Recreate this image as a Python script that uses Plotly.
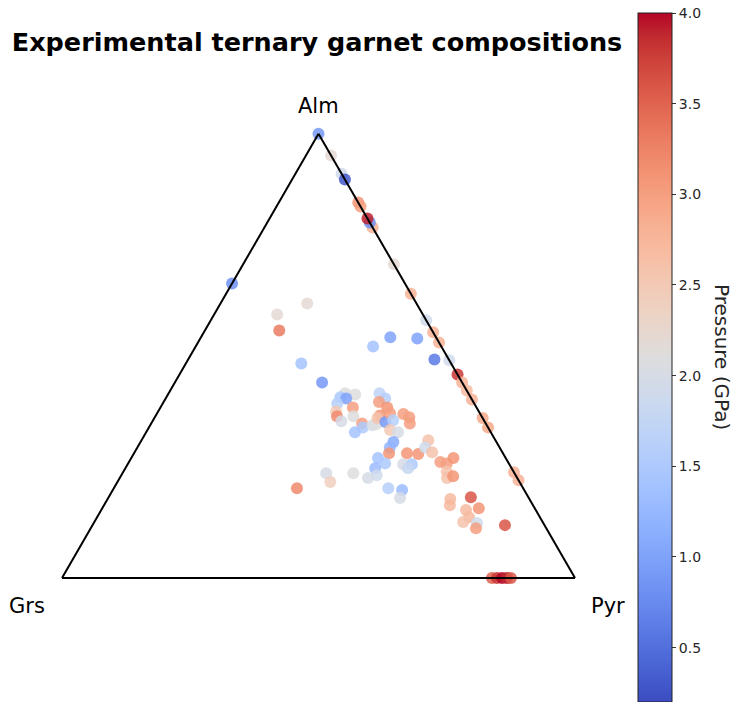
import plotly.graph_objects as go

# Garnet end-member fractions (mol %) and run pressure (GPa)
alm = [100, 95.1, 91.0, 89.7, 84.5, 83.6, 78.9, 80.0, 80.9, 70.6, 64.0, 58.0, 55.3, 53.0,
       49.0, 45.8, 44.0, 42.2, 40.2, 36.0, 33.9, 23.8, 22.0,
       66.3,
       0, 0, 0, 0, 0,
       61.8, 59.3, 55.7, 54.2, 53.9, 49.2, 52.1, 48.3, 44.0, 41.6, 41.3, 40.7, 40.4, 39.3,
       37.5, 36.4, 35.3, 38.4, 36.4, 34.8, 33.9, 32.8, 34.4, 34.6, 41.6, 40.4, 39.6, 38.4,
       36.6, 36.0, 35.1, 37.1, 35.5, 33.3, 32.8, 36.9, 36.2, 34.8, 30.6, 29.4, 28.1, 27.0,
       25.8, 24.7, 23.1, 22.5, 23.6, 23.6, 21.6, 20.2, 20.2, 19.8, 18.0, 28.1, 27.9, 25.6,
       25.6, 24.7, 31.0, 29.4, 28.3, 26.1, 25.8, 27.0, 24.0, 22.5, 22.9, 18.2, 17.8, 16.4,
       15.7, 15.3, 13.7, 12.6, 12.4, 11.2, 11.9]

grs = [0, 0, 0, 0, 0, 0, 0, 0, 0, 0, 0, 0, 0, 0,
       0, 0, 0, 0, 0, 0, 0, 0, 0,
       33.7,
       16.2, 15.2, 14.2, 13.3, 12.5,
       21.3, 28.4, 29.8, 8.9, 3.8, 2.8, 13.3, 29.2, 27.3, 24.0, 22.2, 25.4, 24.4, 26.7,
       27.8, 28.2, 27.9, 24.1, 25.0, 24.1, 24.4, 26.5, 22.3, 21.5, 17.3, 16.8, 18.4, 17.4,
       19.7, 20.5, 19.4, 17.5, 17.7, 19.4, 18.1, 15.0, 14.2, 14.8, 20.1, 21.4, 22.2, 24.9,
       24.1, 26.6, 27.1, 29.1, 31.4, 36.7, 36.9, 44.1, 26.3, 23.8, 25.1, 18.7, 16.6, 20.7,
       19.0, 20.2, 13.1, 14.5, 13.7, 13.2, 12.1, 10.2, 13.0, 13.7, 12.3, 11.2, 15.4, 16.2,
       10.9, 13.6, 13.8, 15.5, 12.9, 13.7, 7.7]

pyr = [0, 4.9, 9.0, 10.3, 15.5, 16.4, 21.1, 20.0, 19.1, 29.4, 36.0, 42.0, 44.7, 47.0,
       51.0, 54.2, 56.0, 57.8, 59.8, 64.0, 66.1, 76.2, 78.0,
       0,
       83.8, 84.8, 85.8, 86.7, 87.5,
       16.9, 12.3, 14.5, 36.9, 42.3, 48.0, 34.6, 22.5, 28.7, 34.4, 36.5, 33.9, 35.2, 34.0,
       34.7, 35.4, 36.8, 37.5, 38.6, 41.1, 41.7, 40.7, 43.3, 43.9, 41.1, 42.8, 42.0, 44.2,
       43.7, 43.5, 45.5, 45.4, 46.8, 47.3, 49.1, 48.1, 49.6, 50.4, 49.3, 49.2, 49.7, 48.1,
       50.1, 48.7, 49.8, 48.4, 45.0, 39.7, 41.5, 35.7, 53.5, 56.4, 56.9, 53.2, 55.5, 53.7,
       55.4, 55.1, 55.9, 56.1, 58.0, 60.7, 62.1, 62.8, 63.0, 63.8, 64.8, 70.6, 66.8, 67.4,
       73.4, 71.1, 72.5, 71.9, 74.7, 75.1, 80.4]

pressure = [0.9, 2.2, 1.9, 0.3, 3.1, 3.0, 2.8, 0.8, 3.9, 2.2, 2.8, 1.9, 2.8, 2.8,
            1.9, 3.8, 2.8, 2.7, 2.8, 2.9, 2.9, 2.8, 2.8,
            0.8,
            3.5, 3.8, 4.0, 3.9, 3.6,
            2.2, 2.2, 3.3, 1.0, 1.0, 0.6, 1.4, 1.4, 0.9, 2.1, 2.1, 1.5, 1.0, 1.6,
            2.5, 3.2, 2.0, 3.0, 2.1, 3.0, 1.5, 1.4, 2.0, 2.1, 1.7, 1.6, 3.0, 3.1,
            3.1, 2.6, 0.9, 3.0, 1.6, 2.5, 2.0, 3.0, 3.0, 3.0, 1.1, 1.2, 3.1, 1.4,
            1.5, 1.3, 1.9, 2.0, 2.1, 2.0, 2.4, 3.2, 1.6, 1.3, 2.0, 3.1, 3.1, 2.0,
            1.5, 1.8, 2.6, 1.9, 2.6, 3.0, 3.0, 3.1, 2.6, 2.6, 3.1, 3.6, 2.7, 2.7,
            3.1, 2.7, 2.7, 2.6, 1.9, 3.0, 3.6]

cbar_ticks = [0.5, 1.0, 1.5, 2.0, 2.5, 3.0, 3.5, 4.0]

# matplotlib-style "coolwarm" diverging colormap
coolwarm_rgb = [
    (59, 76, 192), (68, 90, 204), (77, 104, 215), (87, 117, 225), (98, 130, 234),
    (108, 142, 241), (119, 154, 247), (130, 165, 251), (141, 176, 254), (152, 185, 255),
    (163, 194, 255), (174, 201, 253), (184, 208, 249), (194, 213, 244), (204, 217, 238),
    (213, 219, 230), (221, 221, 221), (229, 216, 209), (236, 211, 197), (241, 204, 185),
    (245, 196, 173), (247, 187, 160), (247, 177, 148), (247, 166, 135), (244, 154, 123),
    (241, 141, 111), (236, 127, 99), (229, 112, 88), (222, 96, 77), (213, 80, 66),
    (203, 62, 56), (192, 40, 47), (180, 4, 38)]
n = len(coolwarm_rgb) - 1
coolwarm = [[i / n, "rgb(%d,%d,%d)" % c] for i, c in enumerate(coolwarm_rgb)]

W, H = 736, 702
FONT = "DejaVu Sans"

fig = go.Figure()
fig.add_trace(go.Scatterternary(
    a=alm, b=grs, c=pyr,
    mode="markers",
    cliponaxis=False,
    hoverinfo="skip",
    marker=dict(
        size=12,
        opacity=0.85,
        color=pressure,
        colorscale=coolwarm,
        cmin=0.2, cmax=4.0,
        line=dict(width=0),
        showscale=True,
        colorbar=dict(
            x=638 / W, xanchor="left", xpad=0,
            y=1 - 357.5 / H, yanchor="middle", ypad=0,
            lenmode="pixels", len=689,
            thickness=34,
            outlinewidth=1, outlinecolor="#222222",
            ticks="outside", ticklen=4, tickwidth=1, tickcolor="#333333",
            tickvals=cbar_ticks,
            ticktext=["%.1f" % t for t in cbar_ticks],
            tickfont=dict(family=FONT, size=14, color="#262626"),
        ),
    ),
))

axis_style = dict(
    showline=True, linecolor="black", linewidth=2,
    showgrid=False, showticklabels=False, ticks="",
    title=dict(text=""),
)

tri_w = 513
tri_h = tri_w * 3 ** 0.5 / 2


def label(text, x, y, size=21, angle=0, color="black"):
    return dict(text=text, x=x / W, y=1 - y / H, xref="paper", yref="paper",
                xanchor="center", yanchor="middle", showarrow=False, textangle=angle,
                font=dict(size=size, family=FONT, color=color))


fig.update_layout(
    width=W, height=H,
    margin=dict(l=0, r=0, t=0, b=0),
    paper_bgcolor="white",
    font=dict(family=FONT, color="black"),
    showlegend=False,
    ternary=dict(
        sum=100,
        bgcolor="white",
        domain=dict(x=[62 / W, 575 / W], y=[1 - 578 / H, 1 - 578 / H + tri_h / H]),
        aaxis=axis_style, baxis=axis_style, caxis=axis_style,
    ),
    title=dict(
        text="<b>Experimental ternary garnet compositions</b>",
        x=317 / W, xanchor="center", xref="paper",
        y=1 - 42 / H, yanchor="middle", yref="container",
        font=dict(family=FONT, size=25.5, color="black"),
    ),
    annotations=[
        label("Alm", 318, 106),
        label("Grs", 27, 606),
        label("Pyr", 608, 606),
        label("Pressure (GPa)", 722, 357, size=20, angle=90, color="#262626"),
    ],
)

fig.write_html("out.html")
